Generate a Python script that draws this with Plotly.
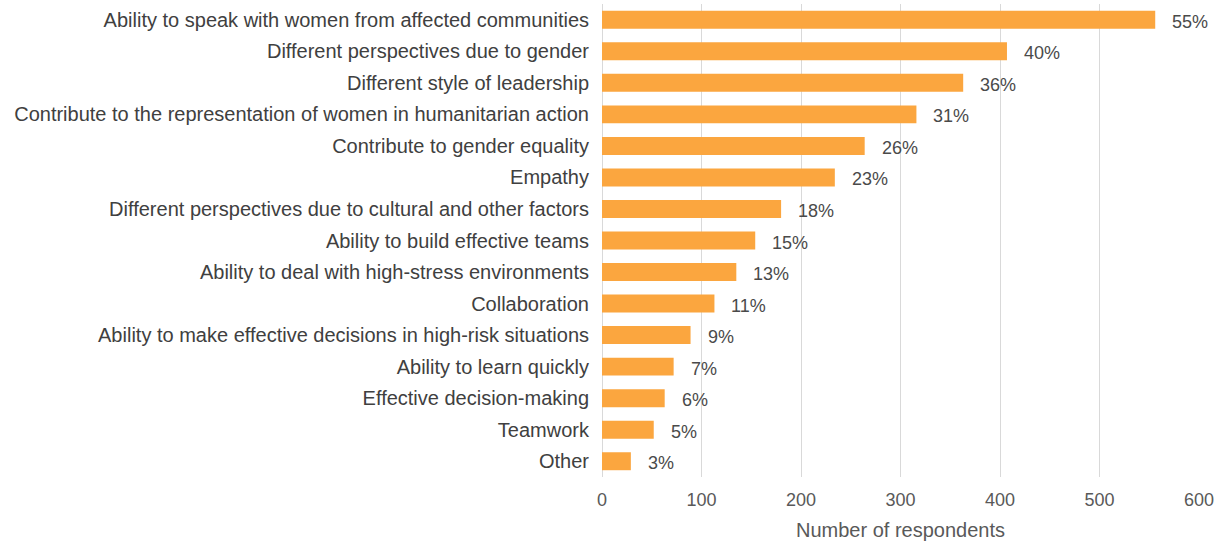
import plotly.graph_objects as go

# Reasons cited, top to bottom
categories = [
    "Ability to speak with women from affected communities",
    "Different perspectives due to gender",
    "Different style of leadership",
    "Contribute to the representation of women in humanitarian action",
    "Contribute to gender equality",
    "Empathy",
    "Different perspectives due to cultural and other factors",
    "Ability to build effective teams",
    "Ability to deal with high-stress environments",
    "Collaboration",
    "Ability to make effective decisions in high-risk situations",
    "Ability to learn quickly",
    "Effective decision-making",
    "Teamwork",
    "Other",
]
respondents = [556, 407, 363, 316, 264, 234, 180, 154, 135, 113, 89, 72, 63, 52, 29]
pct_labels = ["55%", "40%", "36%", "31%", "26%", "23%", "18%", "15%", "13%",
              "11%", "9%", "7%", "6%", "5%", "3%"]
x_ticks = [0, 100, 200, 300, 400, 500, 600]

BAR = "#FBA63F"
FONT = "Liberation Sans, Arial, sans-serif"

fig = go.Figure(
    go.Bar(
        x=respondents,
        y=categories,
        orientation="h",
        marker=dict(color=BAR, line=dict(width=0)),
        hoverinfo="x+y",
    )
)

for cat, val, lab in zip(categories, respondents, pct_labels):
    fig.add_annotation(
        x=val, y=cat, text=lab, showarrow=False,
        xanchor="left", yanchor="middle", xshift=15, yshift=-2,
        font=dict(family=FONT, size=18, color="#4a4a4a"),
    )

fig.update_layout(
    width=1217, height=541,
    margin=dict(l=602, r=18, t=4, b=64),
    paper_bgcolor="white", plot_bgcolor="white",
    bargap=0.43,
    showlegend=False,
    font=dict(family=FONT, size=18, color="#404040"),
)
fig.update_xaxes(
    range=[0, 600], tickvals=x_ticks,
    showgrid=True, gridcolor="#d9d9d9", gridwidth=1,
    zeroline=True, zerolinecolor="#d9d9d9", zerolinewidth=1,
    showline=False, ticks="",
    tickfont=dict(family=FONT, size=18, color="#595959"),
    ticklabelstandoff=10,
    title=dict(text="Number of respondents", standoff=14,
               font=dict(family=FONT, size=20, color="#595959")),
)
fig.update_yaxes(
    categoryorder="array", categoryarray=categories[::-1],
    showgrid=False, showline=False, ticks="",
    tickfont=dict(family=FONT, size=20, color="#404040"),
    ticklabelstandoff=12,
)

fig.write_html("out.html")
